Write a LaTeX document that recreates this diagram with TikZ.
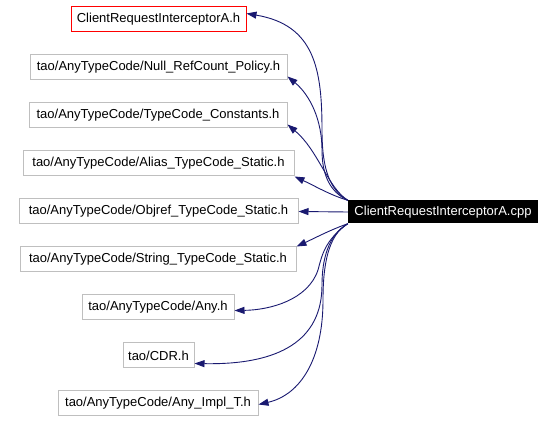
\documentclass[tikz,border=0pt]{standalone}
\usepackage{fontspec}
\setmainfont{Liberation Sans}
\usetikzlibrary{arrows.meta}
\definecolor{edgecol}{HTML}{191970}
\definecolor{boxgray}{HTML}{BFBFBF}
\begin{document}
\begin{tikzpicture}[x=1pt,y=-1pt,
  filebox/.style={draw=boxgray,line width=1pt,minimum height=25pt,inner sep=0pt,font=\fontsize{13}{15}\selectfont},
  redbox/.style={filebox,draw=red},
  mainbox/.style={fill=black,text=white,minimum width=190pt,minimum height=23pt,inner sep=0pt,font=\fontsize{13}{15}\selectfont},
  edge/.style={draw=edgecol,line width=0.9pt,-{Triangle[length=10pt,width=7pt,fill=edgecol]}}]
\useasboundingbox (0,0) rectangle (555,422);
\node[redbox,minimum width=175pt] (b1) at (158.5,19.5) {ClientRequestInterceptorA.h};
\node[filebox,minimum width=257pt] (b2) at (158.5,67.5) {tao/AnyTypeCode/Null\_RefCount\_Policy.h};
\node[filebox,minimum width=258pt] (b3) at (158,115.5) {tao/AnyTypeCode/TypeCode\_Constants.h};
\node[filebox,minimum width=271pt] (b4) at (158.5,163.5) {tao/AnyTypeCode/Alias\_TypeCode\_Static.h};
\node[filebox,minimum width=279pt] (b5) at (158.5,211.5) {tao/AnyTypeCode/Objref\_TypeCode\_Static.h};
\node[filebox,minimum width=276pt] (b6) at (158,259.5) {tao/AnyTypeCode/String\_TypeCode\_Static.h};
\node[filebox,minimum width=152pt] (b7) at (158,307.5) {tao/AnyTypeCode/Any.h};
\node[filebox,minimum width=71pt] (b8) at (158.5,355.5) {tao/CDR.h};
\node[filebox,minimum width=200pt] (b9) at (158,403.5) {tao/AnyTypeCode/Any\_Impl\_T.h};
\node[mainbox] (main) at (443,212) {ClientRequestInterceptorA.cpp};

\draw[edge] (main.north west) .. controls (330,190) and (322,170) .. (322,130) .. controls (322,70) and (315,25) .. ([yshift=6pt]b1.east);
\draw[edge] (main.north west) .. controls (330,192) and (322,175) .. (322,150) .. controls (322,120) and (310,95) .. ([yshift=-9pt]b2.east);
\draw[edge] (main.north west) .. controls (328,188) and (318,150) .. ([yshift=-9pt]b3.east);
\draw[edge] (main.north west) .. controls (330,195) and (315,186) .. (b4.south east);
\draw[edge] (main.west) -- (b5.east);
\draw[edge] (main.south west) .. controls (330,230) and (315,238) .. (b6.north east);
\draw[edge] (main.south west) .. controls (325,240) and (322,255) .. (318,270) .. controls (308,300) and (270,310) .. ([yshift=-3pt]b7.east);
\draw[edge] (main.south west) .. controls (328,235) and (322,260) .. (322,285) .. controls (322,340) and (280,365) .. ([yshift=-8pt]b8.east);
\draw[edge] (main.south west) .. controls (328,235) and (323,265) .. (323,300) .. controls (323,360) and (300,395) .. ([yshift=-1pt]b9.east);
\end{tikzpicture}
\end{document}
